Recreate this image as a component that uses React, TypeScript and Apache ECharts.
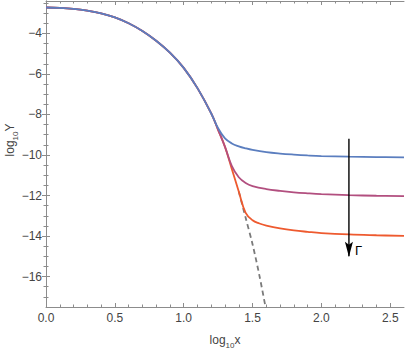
import React, { useEffect, useRef } from "react";
import * as echarts from "echarts";

// ---- data ----
// shared part of the three curves (before they split)
const baseX = [0, 0.1, 0.2, 0.3, 0.4, 0.5, 0.6, 0.7, 0.8, 0.9, 1.0, 1.1, 1.2];
const baseY = [-2.72, -2.74, -2.79, -2.88, -3.01, -3.21, -3.5, -3.88, -4.36, -4.95, -5.7, -6.7, -7.95];

const blueTailX = [1.25, 1.3, 1.35, 1.4, 1.45, 1.5, 1.6, 1.7, 1.8, 1.9, 2.0, 2.2, 2.4, 2.6];
const blueTailY = [-8.68, -9.18, -9.43, -9.57, -9.67, -9.75, -9.86, -9.93, -9.98, -10.02, -10.05, -10.08, -10.1, -10.12];

const purpleTailX = [1.25, 1.3, 1.35, 1.4, 1.45, 1.5, 1.6, 1.7, 1.8, 1.9, 2.0, 2.2, 2.4, 2.6];
const purpleTailY = [-8.76, -9.6, -10.55, -11.1, -11.38, -11.53, -11.68, -11.77, -11.84, -11.89, -11.93, -11.98, -12.01, -12.03];

const redTailX = [1.25, 1.3, 1.35, 1.4, 1.45, 1.5, 1.55, 1.6, 1.7, 1.8, 1.9, 2.0, 2.2, 2.4, 2.6];
const redTailY = [-8.76, -9.6, -10.7, -11.8, -12.85, -13.22, -13.38, -13.48, -13.62, -13.72, -13.79, -13.85, -13.92, -13.96, -13.99];

const dashX = [1.4, 1.45, 1.5, 1.55, 1.6];
const dashY = [-11.8, -13.1, -14.4, -15.95, -17.7];

const arrowX = [2.2, 2.2];
const arrowY = [-9.2, -15.0];
const gammaLabel = "\u0393";

const xMajor = [0, 0.5, 1, 1.5, 2, 2.5];
const xMinor = [0.1, 0.2, 0.3, 0.4, 0.6, 0.7, 0.8, 0.9, 1.1, 1.2, 1.3, 1.4, 1.6, 1.7, 1.8, 1.9, 2.1, 2.2, 2.3, 2.4];
const yMajor = [-16, -14, -12, -10, -8, -6, -4];
const yMinor = [-17, -16.5, -15.5, -15, -14.5, -13.5, -13, -12.5, -11.5, -11, -10.5, -9.5, -9, -8.5, -7.5, -7, -6.5, -5.5, -5, -4.5, -3.5, -3, -2.5];

const X_MIN = 0, X_MAX = 2.6, Y_MIN = -17.5, Y_MAX = -2.4;

const zip = (xs: number[], ys: number[]) => xs.map((x, i) => [x, ys[i]]);

const FRAME = "#8c8c8c";
const LABEL = "#444";
const FONT = "Liberation Sans, Arial, sans-serif";

export default function App() {
  const ref = useRef<HTMLDivElement>(null);
  useEffect(() => {
    document.body.style.margin = "0";
    const chart = echarts.init(ref.current!, null, { renderer: "svg" });

    const xAx = (pos: string, ticks: number[], len: number, labels: boolean, line: boolean) => ({
      type: "value",
      position: pos,
      min: X_MIN,
      max: X_MAX,
      axisLine: { show: line, lineStyle: { color: FRAME, width: 1 } },
      axisTick: { show: true, inside: true, length: len, customValues: ticks, lineStyle: { color: FRAME, width: 1 } },
      axisLabel: labels
        ? { show: true, customValues: ticks, margin: 5, fontSize: 12, color: LABEL, fontFamily: FONT, formatter: (v: number) => v.toFixed(1) }
        : { show: false },
      splitLine: { show: false },
    });
    const yAx = (pos: string, ticks: number[], len: number, labels: boolean, line: boolean) => ({
      type: "value",
      position: pos,
      min: Y_MIN,
      max: Y_MAX,
      axisLine: { show: line, lineStyle: { color: FRAME, width: 1 } },
      axisTick: { show: true, inside: true, length: len, customValues: ticks, lineStyle: { color: FRAME, width: 1 } },
      axisLabel: labels
        ? { show: true, customValues: ticks, margin: 4, fontSize: 12, color: LABEL, fontFamily: FONT, formatter: (v: number) => String(v).replace("-", "\u2212") }
        : { show: false },
      splitLine: { show: false },
    });

    const lineSeries = (name: string, data: number[][], color: string) => ({
      name,
      type: "line",
      data,
      showSymbol: false,
      symbol: "none",
      smooth: 0.4,
      lineStyle: { color, width: 1.8 },
      silent: true,
    });

    const arrowData = zip(arrowX, arrowY);

    chart.setOption({
      animation: false,
      grid: { left: 46, right: 1, top: 1, bottom: 41 },
      xAxis: [
        xAx("bottom", xMajor, 4, true, true),
        xAx("bottom", xMinor, 2.5, false, false),
        xAx("top", xMajor, 4, false, true),
        xAx("top", xMinor, 2.5, false, false),
      ],
      yAxis: [
        yAx("left", yMajor, 4, true, true),
        yAx("left", yMinor, 2.5, false, false),
        yAx("right", yMajor, 4, false, true),
        yAx("right", yMinor, 2.5, false, false),
      ],
      series: [
        {
          name: "asymptote",
          type: "line",
          data: zip(dashX, dashY),
          showSymbol: false,
          symbol: "none",
          smooth: 0.3,
          lineStyle: { color: "#7a7a7a", width: 1.8, type: [5, 3.5] },
          silent: true,
        },
        lineSeries("red", zip([...baseX, ...redTailX], [...baseY, ...redTailY]), "#ee5a2f"),
        lineSeries("purple", zip([...baseX, ...purpleTailX], [...baseY, ...purpleTailY]), "#b24f7f"),
        lineSeries("blue", zip([...baseX, ...blueTailX], [...baseY, ...blueTailY]), "#5b7ebf"),
        {
          name: "arrow",
          type: "line",
          showSymbol: true,
          showAllSymbol: true,
          data: [
            { value: arrowData[0], symbol: "none" },
            {
              value: arrowData[1],
              symbol: "path://M0,0 L5,4 L10,0 L5,20 Z",
              symbolSize: [8, 15],
              symbolOffset: [0, -7],
              label: {
                show: true,
                position: "right",
                distance: 2,
                offset: [0, 1],
                formatter: gammaLabel,
                color: "#000",
                fontSize: 13,
                fontFamily: FONT,
              },
            },
          ],
          lineStyle: { color: "#000", width: 1.4 },
          itemStyle: { color: "#000", borderWidth: 0 },
          silent: true,
        },
      ],
      graphic: [
        {
          type: "text",
          x: 225,
          y: 339,
          style: {
            text: "{a|log}{s|10}{a|x}",
            align: "center",
            verticalAlign: "middle",
            rich: {
              a: { fontSize: 12, fill: LABEL, fontFamily: FONT, verticalAlign: "bottom", lineHeight: 14 },
              s: { fontSize: 8, fill: LABEL, fontFamily: FONT, verticalAlign: "bottom", lineHeight: 10, padding: [0, 0, -3, 0] },
            },
          },
        },
        {
          type: "text",
          x: 9,
          y: 140,
          rotation: Math.PI / 2,
          style: {
            text: "{a|log}{s|10}{a|Y}",
            align: "center",
            verticalAlign: "middle",
            rich: {
              a: { fontSize: 12, fill: LABEL, fontFamily: FONT, verticalAlign: "bottom", lineHeight: 14 },
              s: { fontSize: 8, fill: LABEL, fontFamily: FONT, verticalAlign: "bottom", lineHeight: 10, padding: [0, 0, -3, 0] },
            },
          },
        },
      ],
    });
    return () => chart.dispose();
  }, []);
  return <div ref={ref} style={{ width: 405, height: 348 }} />;
}
